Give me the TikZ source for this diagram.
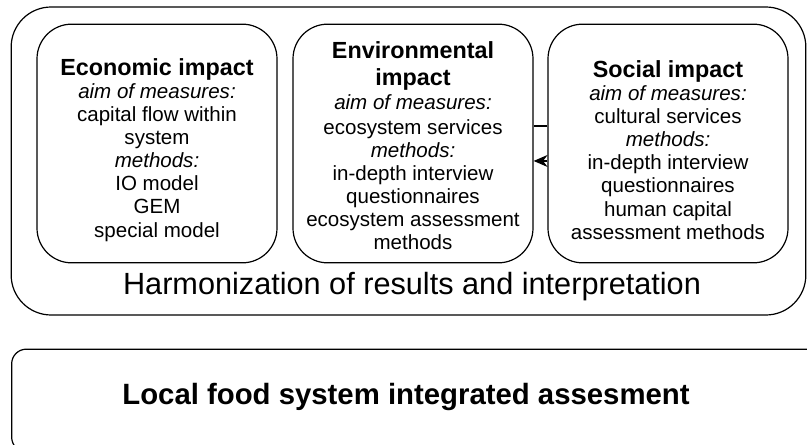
\documentclass[tikz,border=0pt]{standalone}
\usepackage{fontspec}
\setmainfont{Liberation Sans}
\usetikzlibrary{arrows.meta}
\tikzset{
  frame/.style={draw, line width=0.9pt, rounded corners=30pt, minimum width=596pt, minimum height=231pt},
  impact/.style={draw, line width=0.9pt, rounded corners=26pt, minimum width=180pt, minimum height=179pt},
  impacttext/.style={align=center, inner sep=0pt, font=\fontsize{15.4}{17.3}\selectfont},
  bottombox/.style={draw, line width=0.9pt, rounded corners=11pt, minimum width=614pt, minimum height=77pt}
}
\newcommand{\headfont}{\fontsize{17.5}{19.5}\selectfont\bfseries}
\begin{document}
\begin{tikzpicture}[x=0.75pt,y=-0.75pt]
      \useasboundingbox (0,0) rectangle (807,445);
      \clip (0,0) rectangle (807,445);
      \node[frame] (harm) at (408.5,161) {};
      \node[font=\fontsize{23}{27}\selectfont] (harmtext) at (412,287) {Harmonization of results and interpretation};
      % three impact boxes
      \node[impact] (eco) at (157,143.5) {};
      \node[impact] (env) at (413,143.5) {};
      \node[impact] (soc) at (668,143.5) {};
      \node[impacttext] (ecotext) at (157,150) {{\headfont Economic impact}\\
        \textit{aim of measures:}\\ capital flow within\\ system\\
        \textit{methods:}\\ IO model\\ GEM\\ special model};
      \node[impacttext] (envtext) at (413,146) {{\headfont Environmental}\\[2.5pt]{\headfont impact}\\[1.2pt]
        \textit{aim of measures:}\\[1.2pt] ecosystem services\\
        \textit{methods:}\\ in-depth interview\\ questionnaires\\ ecosystem assessment\\ methods};
      \node[impacttext] (soctext) at (668,150) {{\headfont Social impact}\\
        \textit{aim of measures:}\\ cultural services\\
        \textit{methods:}\\ in-depth interview\\ questionnaires\\ human capital\\ assessment methods};
      \begin{scope}[line width=0.9pt]
        \draw ([yshift=13.1pt]soc.west) -- ([yshift=13.1pt]env.east);
        \draw[-{Stealth[length=10.5pt,width=9pt]}] ([yshift=-13.1pt]soc.west) -- ([yshift=-13.1pt]env.east);
      \end{scope}
      \node[bottombox] (local) at (421,400.5) {};
      \node[font=\fontsize{22}{26}\selectfont\bfseries] (localtext) at (406,397) {Local food system integrated assesment};
    \end{tikzpicture}
\end{document}
